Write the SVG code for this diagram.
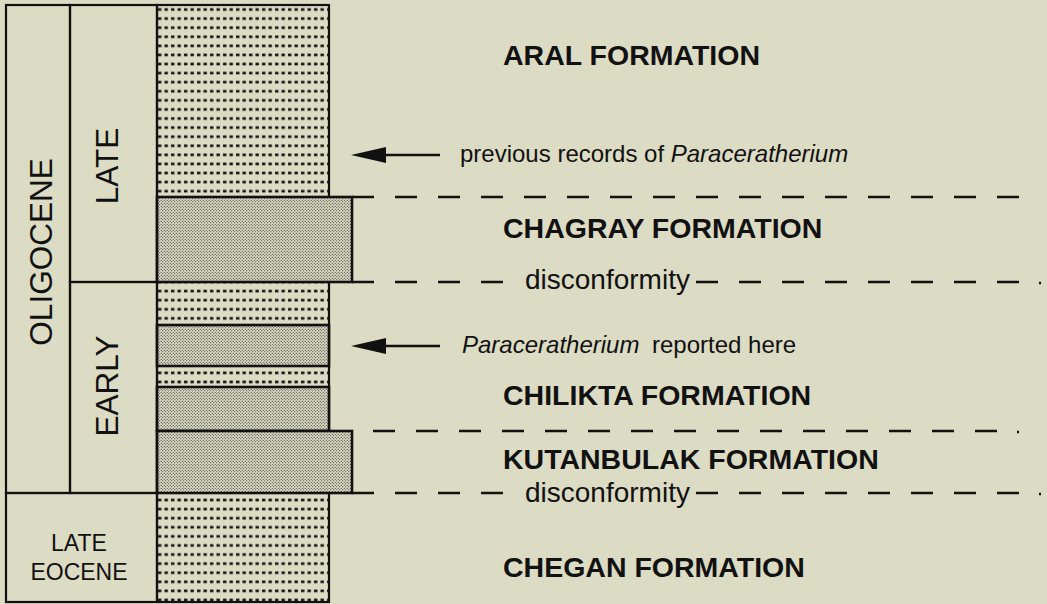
<svg xmlns="http://www.w3.org/2000/svg" width="1047" height="604" viewBox="0 0 1047 604">
  <style>
    .frame { fill: none; stroke: #111; stroke-width: 2.2; }
    .box { stroke: #111; stroke-width: 2.6; fill: url(#stipple); }
    .rot { font-family: "Liberation Sans", Arial, sans-serif; font-size: 31.5px; fill: #111; text-anchor: middle; }
    .small { font-family: "Liberation Sans", Arial, sans-serif; font-size: 23px; fill: #111; text-anchor: middle; }
    .fm { font-family: "Liberation Sans", Arial, sans-serif; font-size: 28.5px; font-weight: bold; fill: #111; }
    .note { font-family: "Liberation Sans", Arial, sans-serif; font-size: 24px; fill: #111; }
    .disc { font-family: "Liberation Sans", Arial, sans-serif; font-size: 28px; fill: #111; }
    .dash { stroke: #111; stroke-width: 2.4; fill: none; stroke-dasharray: 22 21; }
    .dot { stroke: #111; stroke-width: 2.4; fill: none; }
    .arrow { stroke: #111; stroke-width: 2.6; fill: none; marker-end: url(#head); }
  </style>
  <defs>
    <pattern id="sand" patternUnits="userSpaceOnUse" x="157" y="5" width="6.5" height="9.084">
      <rect x="1" y="3.2" width="3.4" height="2.6" fill="#111"/>
    </pattern>
    <pattern id="stipple" patternUnits="userSpaceOnUse" x="0" y="0" width="3" height="3">
      <rect width="3" height="3" fill="#dcdbc4"/>
      <circle cx="0.75" cy="0.75" r="0.6" fill="#222"/>
      <circle cx="2.25" cy="2.25" r="0.6" fill="#222"/>
    </pattern>
    <marker id="head" markerUnits="userSpaceOnUse" markerWidth="38" markerHeight="18" refX="6" refY="8" orient="auto">
      <path d="M0,0 L35,8 L0,16 Z" fill="#111"/>
    </marker>
  </defs>

  <rect width="1047" height="604" fill="#dcdbc4"/>

  <!-- lithologic column -->
  <g id="column">
    <rect x="157" y="5" width="172" height="597" fill="url(#sand)"/>
    <rect x="157" y="5" width="172" height="597" class="frame"/>
  </g>
  <g id="bed-chagray">
    <rect x="157" y="197" width="195" height="85" class="box"/>
  </g>
  <g id="bed-chilikta-1">
    <rect x="157" y="325" width="172" height="41" class="box"/>
  </g>
  <g id="bed-chilikta-2">
    <rect x="157" y="387" width="172" height="44" class="box"/>
  </g>
  <g id="bed-kutanbulak">
    <rect x="157" y="431" width="195" height="62" class="box"/>
  </g>

  <!-- epoch / stage columns -->
  <g id="epoch-oligocene">
    <rect x="6" y="5" width="64" height="488" class="frame"/>
    <text class="rot" transform="translate(52,252) rotate(-90)">OLIGOCENE</text>
  </g>
  <g id="stage-late">
    <rect x="70" y="5" width="87" height="277" class="frame"/>
    <text class="rot" transform="translate(118,166) rotate(-90)">LATE</text>
  </g>
  <g id="stage-early">
    <rect x="70" y="282" width="87" height="211" class="frame"/>
    <text class="rot" transform="translate(118,386) rotate(-90)">EARLY</text>
  </g>
  <g id="epoch-late-eocene">
    <rect x="6" y="493" width="151" height="109" class="frame"/>
    <text class="small" x="79" y="551">LATE</text>
    <text class="small" x="79" y="580">EOCENE</text>
  </g>

  <!-- formation labels -->
  <g id="aral">
    <text class="fm" x="503" y="65">ARAL FORMATION</text>
  </g>
  <g id="chagray">
    <text class="fm" x="503" y="238">CHAGRAY FORMATION</text>
  </g>
  <g id="chilikta">
    <text class="fm" x="503" y="405">CHILIKTA FORMATION</text>
  </g>
  <g id="kutanbulak">
    <text class="fm" x="503" y="469">KUTANBULAK FORMATION</text>
  </g>
  <g id="chegan">
    <text class="fm" x="503" y="577">CHEGAN FORMATION</text>
  </g>

  <g id="note-previous">
    <text class="note" x="460" y="162">previous records of <tspan font-style="italic">Paraceratherium</tspan></text>
  </g>
  <g id="note-reported">
    <text class="note" x="462" y="353"><tspan font-style="italic">Paraceratherium</tspan></text>
    <text class="note" x="652" y="353">reported here</text>
  </g>
  <g id="disconformity-upper">
    <text class="disc" x="525" y="289">disconformity</text>
  </g>
  <g id="disconformity-lower">
    <text class="disc" x="525" y="502">disconformity</text>
  </g>

  <!-- connectors: arrows and boundary lines -->
  <g id="connectors">
    <line class="arrow" x1="440" y1="155" x2="380" y2="155"/>
    <line class="arrow" x1="440" y1="346" x2="380" y2="346"/>

    <line class="dash" x1="352" y1="197" x2="1019" y2="197"/>

    <line class="dash" x1="352" y1="282" x2="503" y2="282"/>
    <line class="dash" x1="696" y1="282" x2="1019" y2="282"/>
    <line class="dot" x1="1039" y1="283" x2="1041" y2="283"/>

    <line class="dash" x1="373" y1="431" x2="998" y2="431"/>
    <line class="dot" x1="1017" y1="432" x2="1019" y2="432"/>

    <line class="dash" x1="352" y1="493" x2="503" y2="493"/>
    <line class="dash" x1="696" y1="493" x2="1019" y2="493"/>
    <line class="dot" x1="1039" y1="494" x2="1041" y2="494"/>
  </g>
</svg>
